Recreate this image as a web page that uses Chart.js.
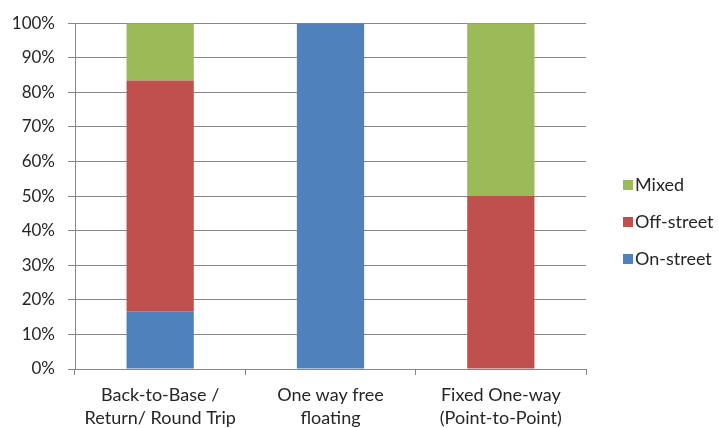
<!DOCTYPE html>
<html>
<head>
<meta charset="utf-8">
<script src="https://cdn.jsdelivr.net/npm/chart.js@4/dist/chart.umd.min.js"></script>
<style>
  html, body { margin: 0; padding: 0; background: #ffffff; }
  #wrap { width: 719px; height: 428px; }
</style>
</head>
<body>
<div id="wrap"><canvas id="c" width="719" height="428"></canvas></div>
<script>
// Share of parking type by car-sharing model (percent)
const categories = [
  ['Back-to-Base /', 'Return/ Round Trip'],
  ['One way free', 'floating'],
  ['Fixed One-way', '(Point-to-Point)']
];
const onStreet  = [16.7, 100, 0];
const offStreet = [66.7, 0, 50];
const mixed     = [16.6, 0, 50];
const yTicks    = [0, 10, 20, 30, 40, 50, 60, 70, 80, 90, 100];

const FONT = 'Lato, "Open Sans", sans-serif';
const TEXT = '#262626';
const GRID = '#878787';

// Legend drawn as a vertical column to the right of the plot, top series first
const sideLegend = {
  id: 'sideLegend',
  afterDraw(chart) {
    const ctx = chart.ctx;
    const items = chart.data.datasets.slice().reverse();
    ctx.save();
    ctx.font = '18px ' + FONT;
    ctx.textBaseline = 'middle';
    ctx.textAlign = 'left';
    items.forEach((ds, i) => {
      const y = 185 + i * 37;
      ctx.fillStyle = ds.backgroundColor;
      ctx.fillRect(623, y - 5, 10, 10);
      ctx.fillStyle = TEXT;
      ctx.fillText(ds.label, 635, y);
    });
    ctx.restore();
  }
};

new Chart(document.getElementById('c'), {
  type: 'bar',
  data: {
    labels: categories,
    datasets: [
      { label: 'On-street',  data: onStreet,  backgroundColor: '#4F81BD' },
      { label: 'Off-street', data: offStreet, backgroundColor: '#C0504D' },
      { label: 'Mixed',      data: mixed,     backgroundColor: '#9BBB59' }
    ]
  },
  options: {
    responsive: false,
    animation: false,
    layout: { padding: { left: 0, right: 133, top: 23, bottom: 0 } },
    plugins: {
      legend: { display: false },
      tooltip: { enabled: false }
    },
    datasets: {
      bar: { categoryPercentage: 1.0, barPercentage: 0.395, borderWidth: 0 }
    },
    scales: {
      x: {
        stacked: true,
        grid: {
          offset: true,
          drawOnChartArea: false,
          drawTicks: true,
          tickLength: 6,
          color: GRID
        },
        border: { color: GRID, width: 1 },
        ticks: {
          color: TEXT,
          font: { family: FONT, size: 18, lineHeight: 1.28 },
          padding: 9,
          maxRotation: 0,
          autoSkip: false
        },
        afterFit(scale) { scale.height = 59; }
      },
      y: {
        stacked: true,
        min: 0,
        max: 100,
        afterBuildTicks(scale) { scale.ticks = yTicks.map(v => ({ value: v })); },
        grid: { color: GRID, tickLength: 7, drawTicks: true },
        border: { color: GRID, width: 1 },
        ticks: {
          color: TEXT,
          font: { family: FONT, size: 17 },
          padding: 13,
          callback: v => v + '%'
        },
        afterFit(scale) { scale.width = 75; }
      }
    }
  },
  plugins: [sideLegend]
});
</script>
</body>
</html>
